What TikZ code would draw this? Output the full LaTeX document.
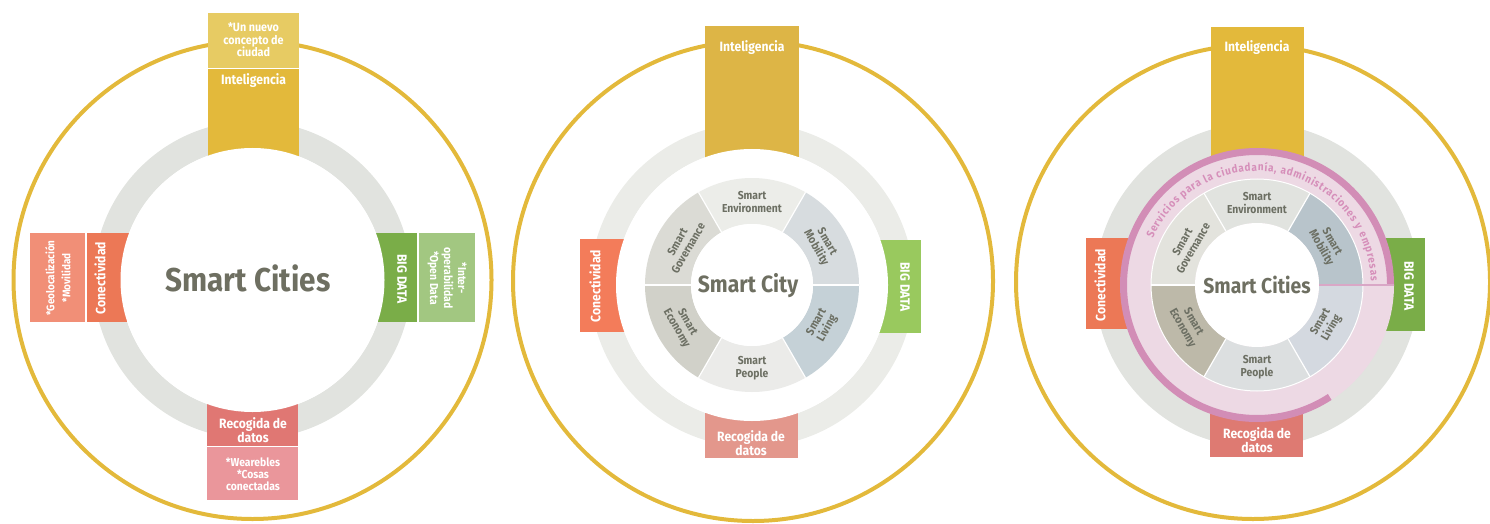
\documentclass[tikz,border=0pt]{standalone}
\usepackage{fontspec}
\setmainfont{Fira Sans}[FakeStretch=0.9]
\usetikzlibrary{decorations.text}
\definecolor{gold}{HTML}{E3B93B}
\definecolor{goldM}{HTML}{DDB546}
\definecolor{yelLight}{HTML}{E7CB63}
\definecolor{conL}{HTML}{EC7856}
\definecolor{geoL}{HTML}{F18F77}
\definecolor{bigL}{HTML}{7AAD48}
\definecolor{intopL}{HTML}{A2C781}
\definecolor{recL}{HTML}{E07773}
\definecolor{wearL}{HTML}{EA969B}
\definecolor{conM}{HTML}{F37C5A}
\definecolor{bigM}{HTML}{99C95E}
\definecolor{recM}{HTML}{E3978C}
\definecolor{recR}{HTML}{DE7A72}
\definecolor{ringL}{HTML}{E1E3DF}
\definecolor{ringM}{HTML}{EBECE8}
\definecolor{textDark}{HTML}{6E6F61}
\definecolor{segtext}{HTML}{6C6F63}
\definecolor{envM}{HTML}{ECEDE9}
\definecolor{govM}{HTML}{DBDBD5}
\definecolor{mobM}{HTML}{D7DCDF}
\definecolor{livM}{HTML}{C5D1D7}
\definecolor{ecoM}{HTML}{D1D1C9}
\definecolor{peoM}{HTML}{EBEBE9}
\definecolor{envR}{HTML}{E1E3DF}
\definecolor{govR}{HTML}{E3E3DD}
\definecolor{mobR}{HTML}{B8C4CB}
\definecolor{livR}{HTML}{D4D9E0}
\definecolor{ecoR}{HTML}{BDB9A9}
\definecolor{peoR}{HTML}{DCDFE0}
\definecolor{pinkL}{HTML}{EDD9E4}
\definecolor{pinkD}{HTML}{D28DB6}
\definecolor{svcText}{HTML}{D68FBA}
\definecolor{pinkLine}{HTML}{D9A7C6}
\begin{document}
\begin{tikzpicture}[x=1pt,y=1pt,
  boxtxt/.style={text=white,font=\bfseries\fontsize{13.5}{14}\selectfont,align=center,inner sep=0pt},
  subtxt/.style={text=white,font=\bfseries\fontsize{11.5}{12.5}\selectfont,align=center,inner sep=0pt},
  segtxt/.style={text=segtext,font=\bfseries\fontsize{11.5}{12.5}\selectfont,align=center,inner sep=0pt},
  titletxt/.style={text=textDark,font=\bfseries,inner sep=0pt},
  outerring/.style={draw=gold,line width=4pt},
  sepline/.style={draw=white,line width=1.2pt}]
\useasboundingbox (0,0) rectangle (1490,523);

% ================= LEFT =================
\coordinate (L) at (252.5,243);
\draw[outerring] (L) circle[radius=239];
\fill[ringL,even odd rule] (L) circle[radius=159] (L) circle[radius=132];
\fill[yelLight] (208,455) rectangle (299,510);
\fill[gold] (208,243) rectangle (299,454);
\fill[geoL] (30,201) rectangle (85,290);
\fill[conL] (87,201) rectangle (252,290);
\fill[bigL] (252,201) rectangle (417,290);
\fill[intopL] (419,201) rectangle (475,290);
\fill[recL] (207,77) rectangle (298,243);
\fill[wearL] (207,23) rectangle (298,76);
\fill[white] (L) circle[radius=132];
\node[titletxt,font=\bfseries\fontsize{33}{36}\selectfont] (tL) at (248,245) {Smart Cities};
\node[subtxt,font=\bfseries\fontsize{12}{12.5}\selectfont] (nuevo) at (253.5,483) {*Un nuevo\\concepto de\\ciudad};
\node[boxtxt] (intL) at (253.5,442) {Inteligencia};
\node[boxtxt,rotate=90] (conLt) at (100,245) {Conectividad};
\node[subtxt,rotate=90,font=\bfseries\fontsize{11}{16}\selectfont] (geoLt) at (58,245) {*Geolocalización\\*Movilidad};
\node[boxtxt,rotate=-90] (bigLt) at (402,244) {BIG DATA};
\node[subtxt,rotate=-90,font=\bfseries\fontsize{11.5}{14}\selectfont] (intopLt) at (447,245) {*Inter-\\operabilidad\\*Open Data};
\node[boxtxt] (recLt) at (253,93) {Recogida de\\datos};
\node[subtxt,font=\bfseries\fontsize{11.5}{12}\selectfont] (wearLt) at (253,49) {*Wearebles\\*Cosas\\conectadas};

% ================= MIDDLE =================
\coordinate (M) at (752,238);
\draw[outerring] (753,242) circle[radius=240];
\fill[ringM,even odd rule] (M) circle[radius=162] (M) circle[radius=136];
\fill[goldM] (705,238) rectangle (799,497);
\fill[conM] (580,191) rectangle (752,284);
\fill[bigM] (752,190) rectangle (921,283);
\fill[recM] (705,65) rectangle (798,238);
\fill[white] (M) circle[radius=136];
\begin{scope}[shift={(M)}]
\foreach \a/\c in {0/mobM,60/envM,120/govM,180/ecoM,240/peoM,300/livM}{
  \fill[\c] (\a:107) arc[start angle=\a,end angle=\a+60,radius=107] -- ({\a+60}:61) arc[start angle=\a+60,end angle=\a,radius=61] -- cycle;
}
\foreach \a in {0,60,...,300} \draw[sepline] (\a:61) -- (\a:107);
\fill[white] (0,0) circle[radius=61];
\node[segtxt] (envMt) at (90:83) {Smart\\Environment};
\node[segtxt,rotate=-60] (mobMt) at (30:80) {Smart\\Mobility};
\node[segtxt,rotate=60] (livMt) at (-30:81) {Smart\\Living};
\node[segtxt] (peoMt) at (270:83) {Smart\\People};
\node[segtxt,rotate=-60] (ecoMt) at (210:81) {Smart\\Economy};
\node[segtxt,rotate=60] (govMt) at (150:80) {Smart\\Governance};
\end{scope}
\node[titletxt,font=\bfseries\fontsize{23.5}{26}\selectfont] (tM) at (748,237) {Smart City};
\node[boxtxt] (intMt) at (752,475) {Inteligencia};
\node[boxtxt,rotate=90] (conMt) at (595,237) {Conectividad};
\node[boxtxt,rotate=-90] (bigMt) at (905,236) {BIG DATA};
\node[boxtxt] (recMt) at (751,80) {Recogida de\\datos};

% ================= RIGHT =================
\coordinate (R) at (1257,238);
\draw[outerring] (1253,241) circle[radius=237];
\fill[ringL] (R) circle[radius=162];
\fill[gold] (1211,238) rectangle (1304,496);
\fill[conL] (1086,194) rectangle (1257,285);
\fill[bigL] (1257,192) rectangle (1425,285);
\fill[recR] (1210,66) rectangle (1303,238);
\fill[pinkL] (R) circle[radius=131];
\fill[pinkL] (R) -- ([shift={(-57:137)}]R) arc[start angle=-57,end angle=0,radius=137] -- cycle;
\draw[pinkD,line width=7pt] ([shift={(0:133.5)}]R) arc[start angle=0,end angle=303,radius=133.5];
\begin{scope}[shift={(R)}]
\foreach \a/\c in {0/mobR,60/envR,120/govR,180/ecoR,240/peoR,300/livR}{
  \fill[\c] (\a:106) arc[start angle=\a,end angle=\a+60,radius=106] -- ({\a+60}:62) arc[start angle=\a+60,end angle=\a,radius=62] -- cycle;
}
\foreach \a in {60,120,...,300} \draw[sepline] (\a:62) -- (\a:106);
\draw[white,line width=1pt] (0,0) circle[radius=106];
\fill[white] (0,0) circle[radius=62];
\draw[pinkLine,line width=1.2pt] (0:62) -- (0:137);
\node[segtxt] (envRt) at (90:82) {Smart\\Environment};
\node[segtxt,rotate=-60] (mobRt) at (30:80) {Smart\\Mobility};
\node[segtxt,rotate=60] (livRt) at (-30:80) {Smart\\Living};
\node[segtxt] (peoRt) at (270:82) {Smart\\People};
\node[segtxt,rotate=-60] (ecoRt) at (210:80) {Smart\\Economy};
\node[segtxt,rotate=60] (govRt) at (150:80) {Smart\\Governance};
\path[decorate,decoration={text along path,text align=fit to path,text color=svcText,
  text={|\bfseries\fontsize{11}{11}\selectfont|Servicios para la ciudadanía, administraciones y empresas}}]
  (156:114) arc[start angle=156,end angle=2,radius=114];
\end{scope}
\node[titletxt,font=\bfseries\fontsize{21.5}{24}\selectfont] (tR) at (1257,238) {Smart Cities};
\node[boxtxt] (intRt) at (1257,475) {Inteligencia};
\node[boxtxt,rotate=90] (conRt) at (1100,238) {Conectividad};
\node[boxtxt,rotate=-90] (bigRt) at (1409,237) {BIG DATA};
\node[boxtxt] (recRt) at (1257,83) {Recogida de\\datos};
\end{tikzpicture}
\end{document}
